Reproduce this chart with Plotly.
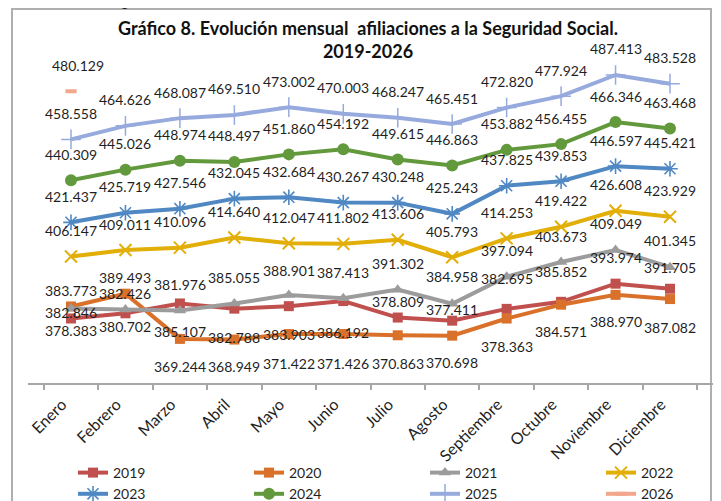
import plotly.graph_objects as go

months = ["Enero", "Febrero", "Marzo", "Abril", "Mayo", "Junio", "Julio",
          "Agosto", "Septiembre", "Octubre", "Noviembre", "Diciembre"]

v2019 = [378.383, 380.702, 385.107, 382.788, 383.903, 386.192, 378.809, 377.411, 382.695, 385.852, 393.974, 391.705]
v2020 = [383.773, 389.493, 369.244, 368.949, 371.422, 371.426, 370.863, 370.698, 378.363, 384.571, 388.970, 387.082]
v2021 = [382.846, 382.426, 381.976, 385.055, 388.901, 387.413, 391.302, 384.958, 397.094, 403.673, 409.049, 401.345]
v2022 = [406.147, 409.011, 410.096, 414.640, 412.047, 411.802, 413.606, 405.793, 414.253, 419.422, 426.608, 423.929]
v2023 = [421.437, 425.719, 427.546, 432.045, 432.684, 430.267, 430.248, 425.243, 437.825, 439.853, 446.597, 445.421]
v2024 = [440.309, 445.026, 448.974, 448.497, 451.860, 454.192, 449.615, 446.863, 453.882, 456.455, 466.346, 463.468]
v2025 = [458.558, 464.626, 468.087, 469.510, 473.002, 470.003, 468.247, 465.451, 472.820, 477.924, 487.413, 483.528]
v2026 = [480.129, None, None, None, None, None, None, None, None, None, None, None]

# label vertical offsets in pixels (positive = upwards)
up = [26] * 12
off2019 = [-12, -13, -28, -29, -28, -31, 16, 11, 30, 30, 26, 21]
off2020 = [16, 16, -28, -27, -29, -29, -28, -27, -28, -27, -27, -28]
off2021 = [-4, 16, 26, 26, 25, 26, 26, 27, 26, 26, 27, 27]

# legend column for each series
legend_of = {"2019": "legend", "2023": "legend",
             "2020": "legend2", "2024": "legend2",
             "2021": "legend3", "2025": "legend3",
             "2022": "legend4", "2026": "legend4"}

series = [
    ("2019", v2019, "#C0504D", dict(symbol="square", size=10), off2019),
    ("2020", v2020, "#D9712B", dict(symbol="square", size=10), off2020),
    ("2021", v2021, "#9C9C9C", dict(symbol="triangle-up", size=11), off2021),
    ("2022", v2022, "#E2AE08", dict(symbol="x-thin", size=12, line=dict(width=2, color="#E2AE08")), up),
    ("2023", v2023, "#4F88C3", dict(symbol="asterisk", size=13, line=dict(width=1.6, color="#4F88C3")), up),
    ("2024", v2024, "#62993D", dict(symbol="circle", size=12), up),
    ("2025", v2025, "#97AADD", dict(symbol="cross-thin", size=14, line=dict(width=1.5, color="#97AADD")), up),
    ("2026", v2026, "#F2A78C", dict(symbol="line-ew", size=8, line=dict(width=4, color="#F2A78C")), up),
]

W, H = 713, 493          # page body has an 8px margin
L, R, T, B = 20, 8, 0, 118
PW, PH = W - L - R, H - T - B

fig = go.Figure()
annotations = []
for name, vals, color, mk, offs in series:
    fig.add_trace(go.Scatter(
        x=months, y=vals, name=name, mode="lines+markers",
        line=dict(color=color, width=4),
        marker=dict(color=color, **mk),
        connectgaps=False, legend=legend_of[name],
    ))
    for i, v in enumerate(vals):
        if v is None:
            continue
        annotations.append(dict(
            x=months[i], y=v, text=f"{v:.3f}", showarrow=False,
            yshift=offs[i], xshift=7 if name == "2026" else 0,
            font=dict(family="Lato", size=14, color="#1f1f1f"),
        ))

# cut-off text of the document above the chart
annotations.append(dict(
    xref="paper", yref="paper", x=(-9 - L) / PW, y=(PH - 4) / PH,
    xanchor="left", yanchor="bottom", showarrow=False,
    text="de los datos de la Seguridad Social",
    font=dict(family="Lato", size=13.5, color="#1f1f1f"),
))

legend_common = dict(
    orientation="v", xref="container", yref="container",
    xanchor="left", yanchor="top", y=1 - 449 / H,
    font=dict(family="Lato", size=14, color="#1f1f1f"),
    bgcolor="rgba(0,0,0,0)", traceorder="normal", tracegroupgap=0,
)

fig.update_layout(
    width=W, height=H,
    margin=dict(l=L, r=R, t=T, b=B, autoexpand=False),
    paper_bgcolor="white", plot_bgcolor="white",
    font=dict(family="Lato", size=14, color="#1f1f1f"),
    title=dict(
        text="Gráfico 8. Evolución mensual \u00a0afiliaciones a la Seguridad Social.<br>2019-2026",
        x=360 / W, xanchor="center", xref="container",
        y=1 - 27 / H, yanchor="top", yref="container",
        font=dict(family="Lato", size=18, color="#111111", weight="bold"),
    ),
    xaxis=dict(
        type="category", showgrid=False, zeroline=False, automargin=False,
        showline=True, linecolor="#A6A6A6", linewidth=2,
        ticks="outside", tickson="boundaries", ticklen=5, tickcolor="#A6A6A6", tickwidth=2,
        tickangle=-45, tickfont=dict(family="Lato", size=16, color="#1f1f1f"),
        ticklabelstandoff=4, ticklabelshift=-9,
    ),
    yaxis=dict(range=[349.5, 517.4], visible=False, showgrid=False, zeroline=False),
    showlegend=True,
    legend=dict(x=(108 - 43) / W, **legend_common),
    legend2=dict(x=(284 - 43) / W, **legend_common),
    legend3=dict(x=(460 - 43) / W, **legend_common),
    legend4=dict(x=(636 - 43) / W, **legend_common),
    annotations=annotations,
    shapes=[dict(
        type="rect", xref="paper", yref="paper",
        x0=(4 - L) / PW, x1=(703 - L) / PW, y0=-0.5, y1=(PH - 1) / PH,
        line=dict(color="#AFAFAF", width=2), fillcolor="rgba(0,0,0,0)", layer="below",
    )],
)

fig.write_html("out.html")
